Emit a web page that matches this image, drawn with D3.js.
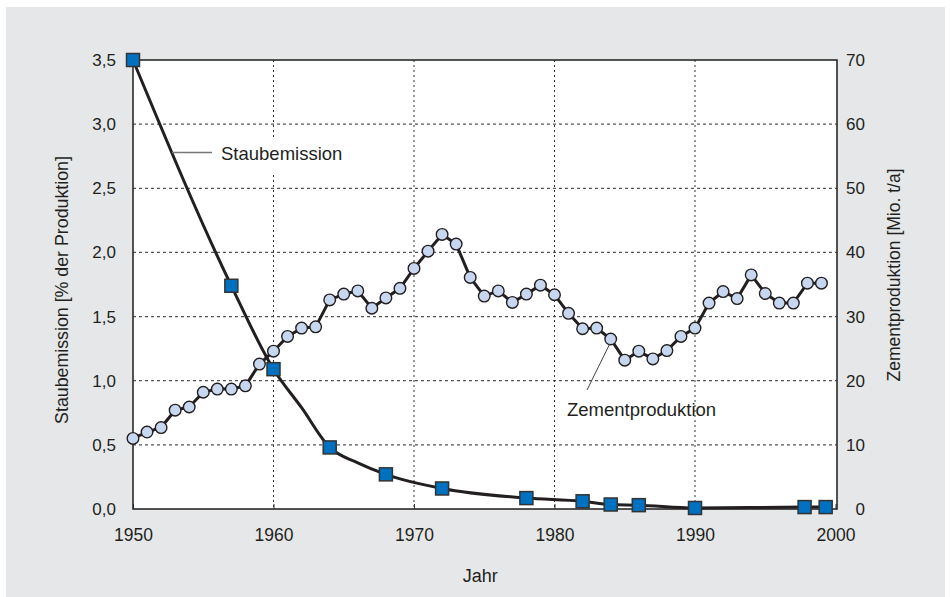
<!DOCTYPE html>
<html>
<head>
<meta charset="utf-8">
<script src="https://cdn.jsdelivr.net/npm/d3@7"></script>
<style>
  body { margin: 0; background: #fff; }
  svg { display: block; font-family: "Liberation Sans", Arial, sans-serif; }
</style>
</head>
<body>
<svg id="chart" width="950" height="597"></svg>
<script>
// Zementproduktion [Mio. t/a], jährlich 1950-1999
const zementJahre = d3.range(1950, 2000);
const zementWerte = [
  11.0, 12.0, 12.7, 15.4, 15.9, 18.2, 18.7, 18.7, 19.2, 22.6,
  24.6, 26.9, 28.2, 28.4, 32.6, 33.5, 34.0, 31.3, 32.9, 34.4,
  37.5, 40.2, 42.8, 41.3, 36.1, 33.2, 34.0, 32.2, 33.5, 34.9,
  33.4, 30.5, 28.1, 28.2, 26.5, 23.2, 24.6, 23.4, 24.7, 26.9,
  28.2, 32.1, 33.9, 32.8, 36.5, 33.6, 32.1, 32.1, 35.2, 35.2
];

// Staubemission [% der Produktion]
const staubJahre = [1950, 1957, 1960, 1962, 1964, 1966, 1968, 1972, 1978, 1982, 1984, 1986, 1990, 1997.8, 1999.3];
const staubWerte = [3.5, 1.74, 1.09, 0.79, 0.48, 0.36, 0.27, 0.16, 0.085, 0.06, 0.035, 0.03, 0.008, 0.015, 0.015];
const staubOhneMarker = [1962, 1966];

const jahrTicks = [1950, 1960, 1970, 1980, 1990, 2000];
const staubTicks = [0, 0.5, 1.0, 1.5, 2.0, 2.5, 3.0, 3.5];
const zementTicks = [0, 10, 20, 30, 40, 50, 60, 70];

const svg = d3.select("#chart");
const pLeft = 133, pRight = 837, pTop = 60, pBottom = 509;

const x = d3.scaleLinear().domain([1950, 2000]).range([pLeft, pRight - 1.5]);
const yL = d3.scaleLinear().domain([0, 3.5]).range([pBottom, pTop]);
const yR = d3.scaleLinear().domain([0, 70]).range([pBottom, pTop]);
const komma = d => d3.format(".1f")(d).replace(".", ",");

// Hintergrund
svg.append("rect").attr("x", 6).attr("y", 7).attr("width", 939).attr("height", 590).attr("fill", "#e6e7e8");
svg.append("rect").attr("x", pLeft).attr("y", pTop).attr("width", pRight - pLeft).attr("height", pBottom - pTop).attr("fill", "#fff");

// Gitter
svg.append("g").selectAll("line").data(staubTicks.slice(1, -1)).join("line")
  .attr("x1", pLeft).attr("x2", pRight)
  .attr("y1", d => yL(d)).attr("y2", d => yL(d))
  .attr("stroke", "#555").attr("stroke-width", 1.2).attr("stroke-dasharray", "3,3");

svg.append("g").selectAll("line").data(jahrTicks.slice(1, -1)).join("line")
  .attr("x1", d => x(d)).attr("x2", d => x(d))
  .attr("y1", pTop).attr("y2", pBottom)
  .attr("stroke", "#333").attr("stroke-width", 1).attr("stroke-dasharray", "2,3");

// Achsen
const axB = svg.append("g").attr("transform", `translate(0,${pBottom})`)
  .call(d3.axisBottom(x).tickValues(jahrTicks).tickSize(-5).tickPadding(20).tickFormat(d3.format("d")));
const axL = svg.append("g").attr("transform", `translate(${pLeft},0)`)
  .call(d3.axisLeft(yL).tickValues(staubTicks).tickSize(0).tickPadding(17).tickFormat(komma));
const axR = svg.append("g").attr("transform", `translate(${pRight},0)`)
  .call(d3.axisRight(yR).tickValues(zementTicks).tickSize(0).tickPadding(28));
[axB, axL, axR].forEach(a => {
  a.select(".domain").remove();
  a.selectAll("text").attr("font-size", 17).attr("fill", "#231f20").attr("font-family", "Liberation Sans, Arial, sans-serif");
  a.selectAll("line").attr("stroke", "#333");
});
axB.selectAll("text").attr("font-size", 17.5);
axR.selectAll("text").attr("text-anchor", "end");

svg.append("rect").attr("x", pLeft).attr("y", pTop).attr("width", pRight - pLeft).attr("height", pBottom - pTop)
  .attr("fill", "none").attr("stroke", "#2a2a2a").attr("stroke-width", 1.6);

// Achsentitel
svg.append("text").attr("x", x(1975) - 4).attr("y", 582).attr("text-anchor", "middle")
  .attr("font-size", 18).attr("fill", "#231f20").text("Jahr");
svg.append("text").attr("transform", "translate(68,290) rotate(-90)").attr("text-anchor", "middle")
  .attr("font-size", 17.8).attr("fill", "#231f20").text("Staubemission [% der Produktion]");
svg.append("text").attr("transform", "translate(900,275) rotate(-90)").attr("text-anchor", "middle")
  .attr("font-size", 17.5).attr("fill", "#231f20").text("Zementproduktion [Mio. t/a]");

// Zementproduktion
const zement = zementJahre.map((j, i) => ({ j, v: zementWerte[i] }));
svg.append("path").datum(zement)
  .attr("d", d3.line().x(d => x(d.j)).y(d => yR(d.v)))
  .attr("fill", "none").attr("stroke", "#231f20").attr("stroke-width", 3);
svg.append("g").selectAll("circle").data(zement).join("circle")
  .attr("cx", d => x(d.j)).attr("cy", d => yR(d.v)).attr("r", 5.8)
  .attr("fill", "#c8d7f0").attr("stroke", "#231f20").attr("stroke-width", 1.4);

// Staubemission
const staub = staubJahre.map((j, i) => ({ j, v: staubWerte[i] }));
svg.append("path").datum(staub)
  .attr("d", d3.line().curve(d3.curveMonotoneX).x(d => x(d.j)).y(d => yL(d.v)))
  .attr("fill", "none").attr("stroke", "#231f20").attr("stroke-width", 3);
svg.append("g").selectAll("rect").data(staub.filter(d => !staubOhneMarker.includes(d.j))).join("rect")
  .attr("x", d => x(d.j) - 6.5).attr("y", d => yL(d.v) - 6.5)
  .attr("width", 13).attr("height", 13)
  .attr("fill", "#0070c0").attr("stroke", "#333").attr("stroke-width", 1.5);

// Beschriftungen
svg.append("rect").attr("x", 214).attr("y", 137).attr("width", 140).attr("height", 38).attr("fill", "#fff");
svg.append("line").attr("x1", 172).attr("x2", 212).attr("y1", 152.5).attr("y2", 152.5)
  .attr("stroke", "#777").attr("stroke-width", 1.5);
svg.append("text").attr("x", 221).attr("y", 159.5).attr("font-size", 18.5).attr("fill", "#231f20").text("Staubemission");

svg.append("line").attr("x1", x(1984) - 1).attr("y1", yR(26.5) + 5).attr("x2", 587).attr("y2", 390)
  .attr("stroke", "#444").attr("stroke-width", 1);
svg.append("text").attr("x", 567).attr("y", 416).attr("font-size", 18.5).attr("fill", "#231f20").text("Zementproduktion");
</script>
</body>
</html>
